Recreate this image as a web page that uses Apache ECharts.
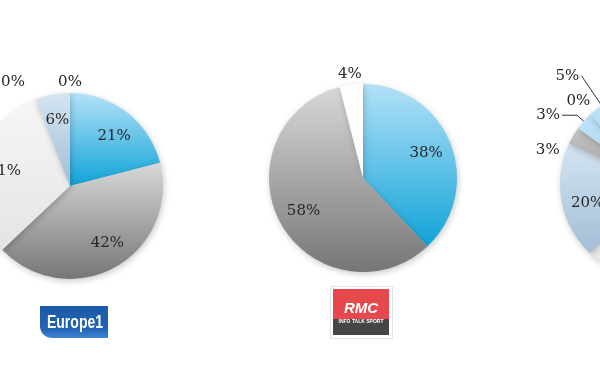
<!DOCTYPE html>
<html><head><meta charset="utf-8">
<script src="https://cdn.jsdelivr.net/npm/echarts@6/dist/echarts.min.js"></script>
<style>html,body{margin:0;padding:0;background:#fff}#c{width:600px;height:372px}</style>
</head><body><div id="c"></div>
<script>
// ---------- data ----------
const europe1Categories = ['Catégorie 1', 'Catégorie 2', 'Catégorie 3', 'Catégorie 4', 'Catégorie 5', 'Catégorie 6'];
const europe1Values = [21, 42, 31, 6, 0, 0];
const rmcCategories = ['Catégorie 1', 'Catégorie 2', 'Catégorie 3'];
const rmcValues = [38, 58, 4];
const thirdCategories = ['Catégorie 1', 'Catégorie 2', 'Catégorie 3', 'Catégorie 4', 'Catégorie 5', 'Catégorie 6', 'Catégorie 7', 'Catégorie 8', 'Catégorie 9'];
const thirdValues = [25, 22, 15, 20, 3, 3, 0, 5, 7];

// ---------- styles ----------
const grad = (a, b) => ({type: 'linear', x: 0, y: 0, x2: 0, y2: 1, colorStops: [{offset: 0, color: a}, {offset: 1, color: b}]});
const BLUE = grad('#b4e1f8', '#10a3d8');
const GREY = grad('#d8d8d8', '#767676');
const WHITE = grad('#f6f6f6', '#e4e4e4');
const PURE = grad('#ffffff', '#fbfbfb');
const PALE = grad('#d4e5f2', '#a2bed6');
const MGREY = grad('#c4c4c4', '#9c9c9c');
const LBLUE = grad('#bfe3f7', '#9fd3f1');

const TXT = {fontFamily: 'DejaVu Serif', fontSize: 15, color: '#262626'};

function makeShift(map) {
  return (p) => {
    const s = map && map[p.dataIndex];
    if (!s) return;
    return {x: p.labelRect.x + s[0], y: p.labelRect.y + s[1], align: 'left', verticalAlign: 'top'};
  };
}

function buildPie(cfg) {
  const {center, r, cats, vals, colors, inner, ring, leader, shift, innerShift} = cfg;
  const out = [];
  // visible pie
  out.push({
    type: 'pie', center, radius: r, startAngle: 90, clockwise: true,
    avoidLabelOverlap: false, silent: true, animation: false,
    itemStyle: {shadowBlur: 6, shadowColor: 'rgba(0,0,0,0.22)', shadowOffsetX: 1, shadowOffsetY: 2},
    label: Object.assign({show: false, formatter: '{c}%', position: 'outside', distanceToLabelLine: 2}, TXT),
    labelLine: {show: true, lineStyle: {color: '#333', width: 1}, smooth: false},
    data: vals.map((v, i) => {
      const d = {name: cats[i], value: v, itemStyle: {color: colors[i]}};
      if (leader && leader[i]) {
        d.label = {show: true};
        d.labelLine = {show: true, length: leader[i][0], length2: leader[i][1]};
      }
      return d;
    })
  });
  // inner labels
  out.push({
    type: 'pie', center, radius: [r * 0.38, r], startAngle: 90, clockwise: true,
    avoidLabelOverlap: false, silent: true, animation: false,
    itemStyle: {color: 'rgba(0,0,0,0)'},
    label: Object.assign({show: true, position: 'inside', formatter: '{c}%'}, TXT),
    labelLine: {show: false},
    labelLayout: makeShift(innerShift),
    data: vals.map((v, i) => ({name: cats[i], value: v, label: {show: inner.indexOf(i) >= 0}}))
  });
  // ring labels just outside the pie
  out.push({
    type: 'pie', center, radius: [r, r + 16], startAngle: 90, clockwise: true,
    avoidLabelOverlap: false, silent: true, animation: false,
    itemStyle: {color: 'rgba(0,0,0,0)'},
    label: Object.assign({show: true, position: 'inside', formatter: '{c}%'}, TXT),
    labelLine: {show: false},
    labelLayout: makeShift(shift),
    data: vals.map((v, i) => ({name: cats[i], value: v, label: {show: ring.indexOf(i) >= 0}}))
  });
  return out;
}

const series = [].concat(
  buildPie({center: [70, 186], r: 93, cats: europe1Categories, vals: europe1Values,
    colors: [BLUE, GREY, WHITE, PALE, MGREY, LBLUE], inner: [0, 1, 2, 3], ring: [4, 5],
    shift: {4: [-57, 0]}, innerShift: {0: [3, 3], 1: [5, -2]}}),
  buildPie({center: [363, 178], r: 94, cats: rmcCategories, vals: rmcValues,
    colors: [BLUE, GREY, PURE], inner: [0, 1], ring: [2]}),
  buildPie({center: [655, 184], r: 95, cats: thirdCategories, vals: thirdValues,
    colors: [BLUE, GREY, WHITE, PALE, MGREY, LBLUE, GREY, LBLUE, WHITE], inner: [0, 1, 2, 3, 8], ring: [4, 6],
    leader: {5: [9, 15], 7: [36, 0]}, shift: {4: [-16, 20], 6: [-4, -6]}, innerShift: {3: [0, 6]}})
);

const chart = echarts.init(document.getElementById('c'), null, {renderer: 'canvas'});
chart.setOption({
  backgroundColor: '#ffffff',
  animation: false,
  series,
  graphic: [
    // Europe 1 logo
    {type: 'rect', shape: {x: 40, y: 306, width: 68, height: 32, r: [0, 0, 0, 12]},
      style: {fill: {type: 'linear', x: 0, y: 0, x2: 0, y2: 1, colorStops: [{offset: 0, color: '#1c5aa8'}, {offset: 0.7, color: '#1f63b4'}, {offset: 1, color: '#3d86d2'}]}}},
    {type: 'text', x: 75, y: 323, scaleX: 0.78, style: {x: 0, y: 0, text: 'Europe1', fill: '#ffffff', font: 'bold 18px "Liberation Sans", sans-serif', align: 'center', verticalAlign: 'middle'}},
    // RMC logo
    {type: 'rect', shape: {x: 330.5, y: 286.5, width: 62, height: 52}, style: {fill: '#ffffff', stroke: '#e2e2e2', lineWidth: 1}},
    {type: 'rect', shape: {x: 333, y: 289, width: 56, height: 30}, style: {fill: '#e6484d'}},
    {type: 'rect', shape: {x: 333, y: 319, width: 56, height: 16}, style: {fill: '#464646'}},
    {type: 'text', style: {x: 361, y: 309, text: 'RMC', fill: '#ffffff', font: 'italic bold 15px "Liberation Sans", sans-serif', align: 'center', verticalAlign: 'middle'}},
    {type: 'text', style: {x: 361, y: 322, text: 'INFO TALK SPORT', fill: '#ffffff', font: 'bold 5px "Liberation Sans", sans-serif', align: 'center', verticalAlign: 'middle'}}
  ]
});
</script></body></html>
